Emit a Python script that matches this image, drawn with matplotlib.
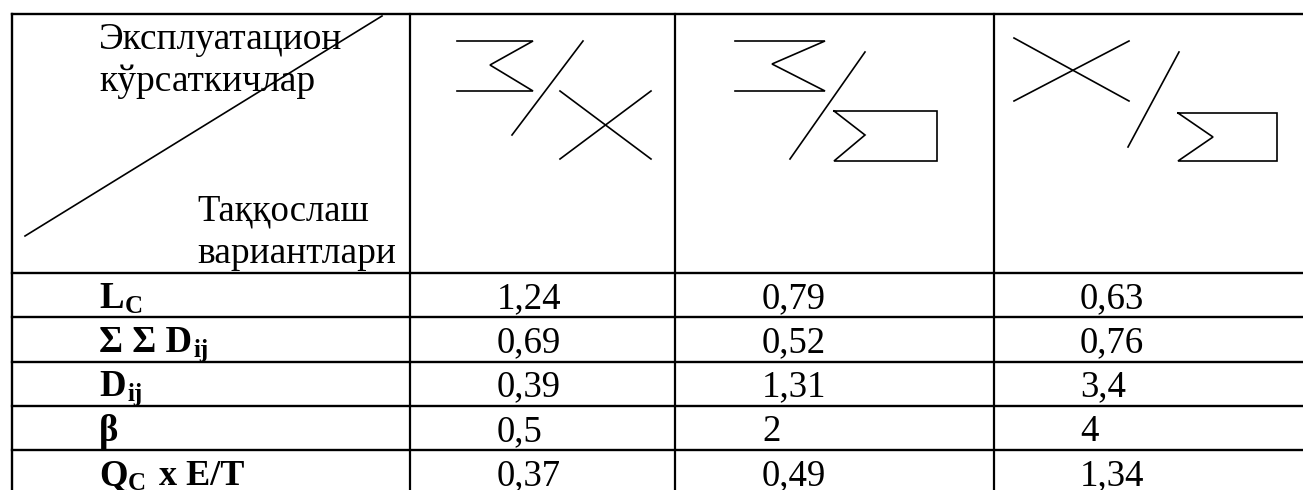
import matplotlib
matplotlib.use("Agg")
from matplotlib import pyplot as plt

plt.rcParams['font.family'] = ['Liberation Serif', 'DejaVu Serif']

header_top = ["Эксплуатацион", "кўрсаткичлар"]
header_bottom = ["Таққослаш", "вариантлари"]

col_1 = ["1,24", "0,69", "0,39", "0,5", "0,37"]
col_2 = ["0,79", "0,52", "1,31", "2", "0,49"]
col_3 = ["0,63", "0,76", "3,4", "4", "1,34"]

# каждая метка строки: (текст, подстрочный, хвост)
row_main = ["L", "Σ Σ D", "D", "β", "Q"]
row_sub = ["C", "ij", "ij", "", "C"]
row_tail = ["", "", "", "", "x E/T"]

W, H = 1303, 490
fig = plt.figure(figsize=(W / 100, H / 100), dpi=100)
ax = fig.add_axes([0, 0, 1, 1])
ax.set_xlim(0, W)
ax.set_ylim(H, 0)
ax.axis("off")

# сетка таблицы
left = 12
cols_x = [410, 675, 994]
rows_y = [14, 272.5, 316.5, 361.5, 405.5, 450]
ax.plot([left, left], [14, H], color="black", lw=1.7)
for x in cols_x:
    ax.plot([x, x], [14, H], color="black", lw=1.6)
for y in rows_y:
    ax.plot([left, W], [y, y], color="black", lw=1.7)

# диагональ в шапке
ax.plot([25, 382], [236, 16], color="black", lw=1.2)


def sym(xs, ys):
    ax.plot(xs, ys, color="black", lw=1.2, solid_joinstyle="miter")


# значки первой колонки
sym([457, 533, 490, 533, 457], [41, 41, 65, 91, 91])
sym([583, 512], [41, 135])
sym([560, 651], [91, 159])
sym([560, 651], [159, 91])

# вторая колонка
sym([735, 825, 772, 825, 735], [41, 41, 64, 91, 91])
sym([865, 790], [52, 159])
sym([834, 937, 937, 834, 865, 834], [111, 111, 161, 161, 135, 111])

# третья колонка
sym([1014, 1129], [38, 101])
sym([1014, 1129], [101, 41])
sym([1179, 1128], [52, 147])
sym([1178, 1277, 1277, 1178, 1213, 1178], [113, 113, 161, 161, 137, 113])

fs = 26.5
fs_head = 27
fs_sub = 18

ax.text(99, 49, header_top[0], fontsize=fs_head, va="baseline")
ax.text(99, 91, header_top[1], fontsize=fs_head, va="baseline")
ax.text(197, 220, header_bottom[0], fontsize=fs, va="baseline")
ax.text(197, 263, header_bottom[1], fontsize=fs_head, va="baseline")

base_y = [308, 352, 396, 441, 485]
sub_x = [125, 193, 127, 0, 128]
for i in range(5):
    y = base_y[i]
    ax.text(497, y, col_1[i], fontsize=fs, va="baseline", clip_on=True)
    ax.text(762, y, col_2[i], fontsize=fs, va="baseline", clip_on=True)
    ax.text(1080, y, col_3[i], fontsize=fs, va="baseline", clip_on=True)
    ax.text(99, y, row_main[i], fontsize=fs, fontweight="bold", va="baseline", clip_on=True)
    if row_sub[i]:
        ax.text(sub_x[i], y + 5, row_sub[i], fontsize=fs_sub, fontweight="bold", va="baseline", clip_on=True)
    if row_tail[i]:
        ax.text(159, y, row_tail[i], fontsize=26, fontweight="bold", va="baseline", clip_on=True)

plt.savefig("out.png", dpi=100, facecolor="white")
